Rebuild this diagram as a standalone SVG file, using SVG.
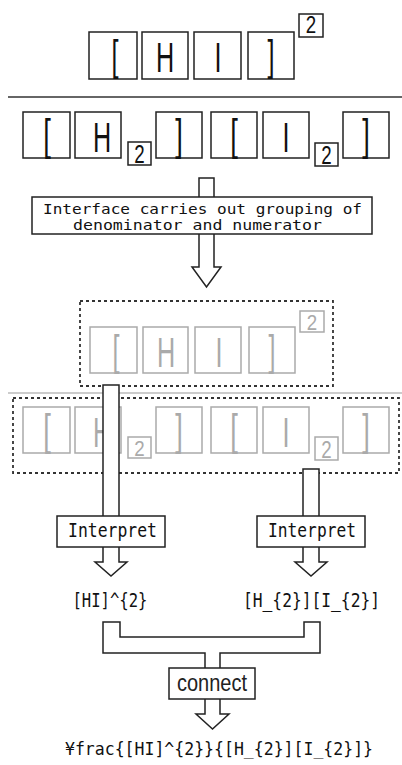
<svg xmlns="http://www.w3.org/2000/svg" width="402" height="765" viewBox="0 0 402 765">
<style>
.bx{fill:#fff;stroke:#222;stroke-width:1.5}
.big{font-family:"Liberation Sans",Arial,sans-serif;font-size:42px;text-anchor:middle;fill:#111}
.dig{font-family:"Liberation Sans",Arial,sans-serif;font-size:25px;text-anchor:middle;fill:#111}
.gray .big,.gray .dig{fill:#aaa}
.gray rect{fill:#fff;stroke:#aaa;stroke-width:1.5}
.dash{fill:none;stroke:#333;stroke-width:1.8;stroke-dasharray:3 3}
.arr{fill:#fff;stroke:#222;stroke-width:1.5;stroke-linejoin:miter}
.mono{font-family:"DejaVu Sans Mono","Liberation Mono",monospace;text-anchor:middle;fill:#111}
.sans{font-family:"Liberation Sans",Arial,sans-serif;text-anchor:middle;fill:#222}
</style>
<rect width="402" height="765" fill="#fff"/>

<!-- Row 1: [HI]^2 -->
<g id="row1">
  <rect class="bx" x="89" y="32" width="48" height="47"/>
  <rect class="bx" x="142" y="32" width="46" height="47"/>
  <rect class="bx" x="194" y="32" width="47" height="47"/>
  <rect class="bx" x="248" y="32" width="46" height="47"/>
  <rect class="bx" x="299" y="14" width="24" height="23"/>
  <text class="big" transform="translate(115,70) scale(0.6,1)">[</text>
  <text class="big" transform="translate(165,72) scale(0.6,1)">H</text>
  <text class="big" transform="translate(218,72) scale(0.6,1)">I</text>
  <text class="big" transform="translate(271,70) scale(0.6,1)">]</text>
  <text class="dig" transform="translate(311,33) scale(0.75,0.95)">2</text>
</g>

<line x1="8" y1="97" x2="402" y2="97" stroke="#666" stroke-width="2"/>

<!-- Row 2: [H2][I2] -->
<g id="row2">
  <rect class="bx" x="23" y="112" width="47" height="46"/>
  <rect class="bx" x="75" y="112" width="46" height="46"/>
  <rect class="bx" x="128" y="142" width="23" height="23"/>
  <rect class="bx" x="156" y="112" width="46" height="46"/>
  <rect class="bx" x="211" y="112" width="46" height="46"/>
  <rect class="bx" x="263" y="112" width="46" height="46"/>
  <rect class="bx" x="315" y="143" width="23" height="23"/>
  <rect class="bx" x="343" y="112" width="46" height="46"/>
  <text class="big" transform="translate(47,150) scale(0.65,1.05)">[</text>
  <text class="big" transform="translate(102,152) scale(0.6,1)">H</text>
  <text class="dig" transform="translate(139.5,163) scale(0.75,1)">2</text>
  <text class="big" transform="translate(179,150) scale(0.65,1.05)">]</text>
  <text class="big" transform="translate(234,150) scale(0.65,1.05)">[</text>
  <text class="big" transform="translate(286,152) scale(0.6,1)">I</text>
  <text class="dig" transform="translate(326.5,164) scale(0.75,1)">2</text>
  <text class="big" transform="translate(366,150) scale(0.65,1.05)">]</text>
</g>

<!-- Gray row 1 -->
<g id="grayRow1" class="gray" transform="translate(1,295)">
  <rect x="89" y="32" width="47" height="46"/>
  <rect x="142" y="32" width="45" height="46"/>
  <rect x="194" y="32" width="46" height="46"/>
  <rect x="248" y="32" width="46" height="46"/>
  <rect x="299" y="16" width="24" height="21"/>
  <text class="big" transform="translate(115,70) scale(0.6,1)">[</text>
  <text class="big" transform="translate(165,72) scale(0.6,1)">H</text>
  <text class="big" transform="translate(218,72) scale(0.6,1)">I</text>
  <text class="big" transform="translate(271,70) scale(0.6,1)">]</text>
  <text class="dig" transform="translate(311,35) scale(0.75,0.85)">2</text>
</g>

<line x1="8" y1="393" x2="402" y2="393" stroke="#bbb" stroke-width="1.5"/>

<!-- Gray row 2 -->
<g id="grayRow2" class="gray" transform="translate(0,295)">
  <rect x="23" y="112" width="47" height="46"/>
  <rect x="75" y="112" width="46" height="46"/>
  <rect x="128" y="142" width="23" height="21"/>
  <rect x="156" y="112" width="46" height="46"/>
  <rect x="211" y="112" width="46" height="46"/>
  <rect x="263" y="112" width="46" height="46"/>
  <rect x="315" y="142" width="23" height="23"/>
  <rect x="343" y="112" width="46" height="46"/>
  <text class="big" transform="translate(47,150) scale(0.65,1.05)">[</text>
  <text class="big" transform="translate(102,152) scale(0.6,1)">H</text>
  <text class="dig" transform="translate(139.5,161) scale(0.75,0.9)">2</text>
  <text class="big" transform="translate(179,150) scale(0.65,1.05)">]</text>
  <text class="big" transform="translate(234,150) scale(0.65,1.05)">[</text>
  <text class="big" transform="translate(286,152) scale(0.6,1)">I</text>
  <text class="dig" transform="translate(326.5,163) scale(0.75,0.95)">2</text>
  <text class="big" transform="translate(366,150) scale(0.65,1.05)">]</text>
</g>

<!-- Dashed groupings -->
<g id="groupNumerator"><rect class="dash" x="80" y="301" width="253" height="85"/></g>
<g id="groupDenominator"><rect class="dash" x="13" y="398" width="386" height="75"/></g>

<!-- Connectors (block arrows) -->
<g id="connectors">
  <path class="arr" d="M199,178 H214 V267 H221 L206.5,287 L192,267 H199 Z"/>
  <path class="arr" d="M103,385 H119 V562 H127 L111,576 L95,562 H103 Z"/>
  <path class="arr" d="M303,469 H319 V562 H327 L311,576 L295,562 H303 Z"/>
  <path class="arr" d="M103,622 H120 V637 H304 V622 H320 V653 H220 V714 H229 L212.5,729 L196,714 H205 V653 H103 Z"/>
</g>

<!-- Process boxes -->
<g id="grouping">
  <rect class="bx" x="32" y="197" width="340" height="37"/>
  <text class="mono" x="202.5" y="214" font-size="14" textLength="319" lengthAdjust="spacingAndGlyphs">Interface carries out grouping of</text>
  <text class="mono" x="197.5" y="229.5" font-size="14" textLength="249" lengthAdjust="spacingAndGlyphs">denominator and numerator</text>
</g>

<g id="interpretLeft">
  <rect class="bx" x="57" y="516" width="108" height="31"/>
  <text class="mono" x="112.5" y="537" font-size="19" textLength="89" lengthAdjust="spacingAndGlyphs">Interpret</text>
</g>
<g id="interpretRight">
  <rect class="bx" x="257" y="516" width="108" height="31"/>
  <text class="mono" x="312" y="537" font-size="19" textLength="88" lengthAdjust="spacingAndGlyphs">Interpret</text>
</g>

<g id="resultLeft">
  <text class="mono" x="110" y="607" font-size="19" textLength="75" lengthAdjust="spacingAndGlyphs">[HI]^{2}</text>
</g>
<g id="resultRight">
  <text class="mono" x="311.5" y="607" font-size="19" textLength="137" lengthAdjust="spacingAndGlyphs">[H_{2}][I_{2}]</text>
</g>

<g id="connect">
  <rect class="bx" x="169" y="668" width="86" height="31"/>
  <text class="sans" x="212" y="691" font-size="23" textLength="70" lengthAdjust="spacingAndGlyphs">connect</text>
</g>

<g id="final">
  <text class="mono" x="219" y="755" font-size="17" textLength="308" lengthAdjust="spacingAndGlyphs">¥frac{[HI]^{2}}{[H_{2}][I_{2}]}</text>
</g>
</svg>
